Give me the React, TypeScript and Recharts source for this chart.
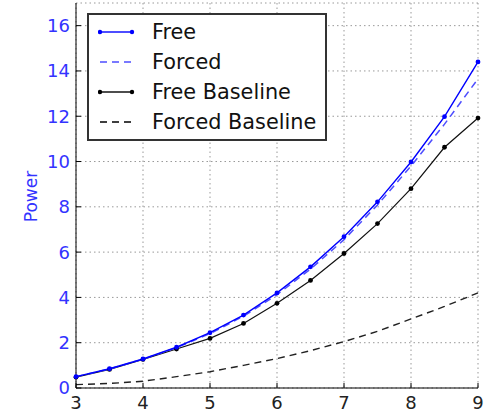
import React from "react";
import { LineChart, Line, XAxis, YAxis, CartesianGrid } from "recharts";

const speeds = [3, 3.5, 4, 4.5, 5, 5.5, 6, 6.5, 7, 7.5, 8, 8.5, 9];
const freePower = [0.5, 0.85, 1.28, 1.8, 2.44, 3.22, 4.2, 5.35, 6.68, 8.22, 9.98, 11.98, 14.4];
const forcedPower = [0.5, 0.84, 1.27, 1.78, 2.4, 3.17, 4.12, 5.25, 6.55, 8.08, 9.8, 11.65, 13.65];
const freeBaseline = [0.48, 0.82, 1.26, 1.72, 2.19, 2.85, 3.74, 4.75, 5.94, 7.26, 8.8, 10.63, 11.92];
const forcedBaseline = [0.15, 0.2, 0.3, 0.5, 0.72, 1.0, 1.3, 1.65, 2.05, 2.5, 3.05, 3.6, 4.2];

const xTicks = [3, 4, 5, 6, 7, 8, 9];
const yTicks = [0, 2, 4, 6, 8, 10, 12, 14, 16];

const rows = speeds.map((s, i) => ({
  speed: s,
  free: freePower[i],
  forced: forcedPower[i],
  freeBase: freeBaseline[i],
  forcedBase: forcedBaseline[i],
}));

const FONT = "'DejaVu Sans', sans-serif";
const BLUE = "#0000ff";
const LIGHT_BLUE = "#4d4dff";
const LABEL_BLUE = "#3333ff";

const legendItems = [
  { label: "Free", color: BLUE, dash: undefined, dot: true },
  { label: "Forced", color: LIGHT_BLUE, dash: "7 5", dot: false },
  { label: "Free Baseline", color: "#000", dash: undefined, dot: true },
  { label: "Forced Baseline", color: "#000", dash: "7 5", dot: false },
];

// legend drawn over the plot, top-left like matplotlib's "upper left"
function LegendBox() {
  return (
    <div
      style={{
        position: "absolute",
        left: 87,
        top: 13,
        width: 240,
        height: 128,
        border: "2px solid #333",
        background: "#fff",
        boxSizing: "border-box",
        fontFamily: FONT,
        fontSize: 20.8,
        color: "#111",
        paddingTop: 2,
      }}
    >
      {legendItems.map((it) => (
        <div key={it.label} style={{ display: "flex", alignItems: "center", height: 30 }}>
          <svg width={54} height={12} style={{ marginLeft: 9, flex: "none" }}>
            <line x1={2} y1={6} x2={34} y2={6} stroke={it.color} strokeWidth={1.4} strokeDasharray={it.dash} />
            {it.dot && <circle cx={2} cy={6} r={2.2} fill={it.color} />}
            {it.dot && <circle cx={34} cy={6} r={2.2} fill={it.color} />}
          </svg>
          <span style={{ lineHeight: "30px", whiteSpace: "nowrap" }}>{it.label}</span>
        </div>
      ))}
    </div>
  );
}

const emptyTick = () => <g />;

function PowerLabel(props: any) {
  const vb = props.viewBox || { x: 0, y: 0, width: 0, height: 0 };
  const cx = vb.x + 31;
  const cy = vb.y + vb.height / 2 + 1;
  return (
    <text
      x={cx}
      y={cy}
      transform={`rotate(-90 ${cx} ${cy})`}
      textAnchor="middle"
      dominantBaseline="central"
      fill={LABEL_BLUE}
      fontSize={17}
      fontFamily={FONT}
    >
      Power
    </text>
  );
}

export default function App() {
  return (
    <div style={{ position: "absolute", left: 0, top: 0, width: 487, height: 416, background: "#fff" }}>
      <LineChart width={487} height={416} data={rows} margin={{ top: 3, right: 9, bottom: 0, left: 0 }}>
        <CartesianGrid stroke="#999" strokeDasharray="1.5 3" />
        <XAxis
          dataKey="speed"
          type="number"
          domain={[3, 9]}
          ticks={xTicks}
          height={28}
          tickSize={-5}
          tickMargin={13}
          stroke="#000"
          tick={{ fill: "#222", fontSize: 18, fontFamily: FONT }}
        />
        <XAxis
          xAxisId="top"
          dataKey="speed"
          type="number"
          orientation="top"
          domain={[3, 9]}
          ticks={xTicks}
          height={0}
          tickSize={-5}
          stroke="#000"
          tick={emptyTick}
        />
        <YAxis
          type="number"
          domain={[0, 17]}
          ticks={yTicks}
          width={76}
          tickSize={-5}
          tickMargin={11}
          stroke="#000"
          tick={{ fill: LABEL_BLUE, fontSize: 18, fontFamily: FONT }}
          label={{ content: PowerLabel }}
        />
        <YAxis
          yAxisId="right"
          orientation="right"
          type="number"
          domain={[0, 17]}
          ticks={yTicks}
          width={0}
          tickSize={-5}
          stroke="#444"
          tick={emptyTick}
        />
        <Line
          dataKey="forcedBase"
          stroke="#222"
          strokeWidth={1.4}
          strokeDasharray="7 5"
          dot={false}
          isAnimationActive={false}
        />
        <Line
          dataKey="freeBase"
          stroke="#111"
          strokeWidth={1.2}
          dot={{ r: 2.4, fill: "#000", stroke: "none" }}
          isAnimationActive={false}
        />
        <Line
          dataKey="forced"
          stroke={LIGHT_BLUE}
          strokeWidth={1.5}
          strokeDasharray="7 5"
          dot={false}
          isAnimationActive={false}
        />
        <Line
          dataKey="free"
          stroke={BLUE}
          strokeWidth={1.4}
          dot={{ r: 2.4, fill: BLUE, stroke: "none" }}
          isAnimationActive={false}
        />
      </LineChart>
      <LegendBox />
    </div>
  );
}
